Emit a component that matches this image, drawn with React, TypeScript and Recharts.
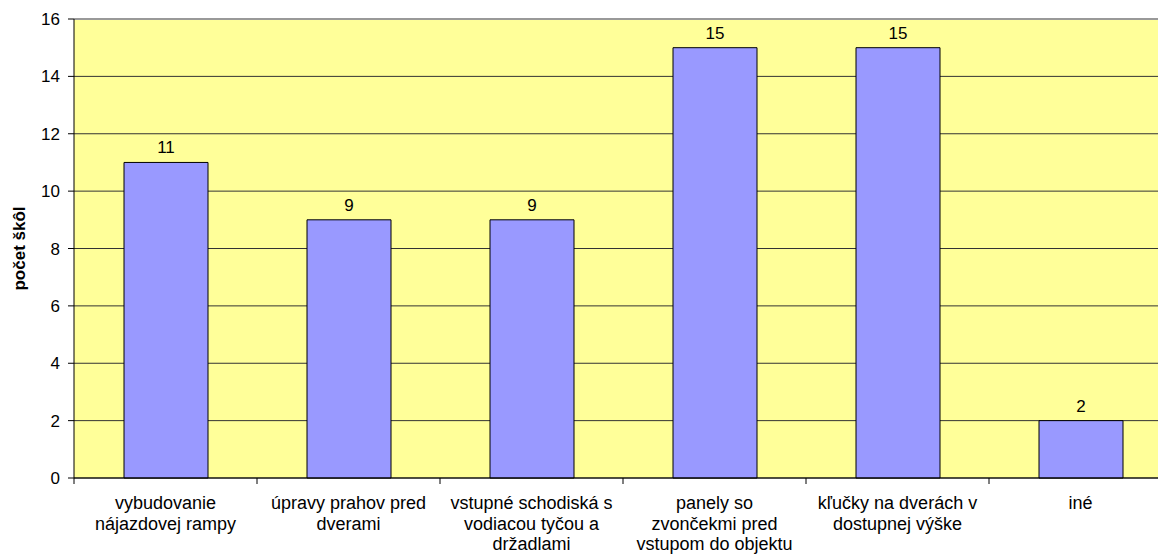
import { Bar, BarChart, CartesianGrid, LabelList, ReferenceLine, XAxis, YAxis } from 'recharts'

// Excel-style column chart: number of schools per type of accessibility adjustment.

const categories = [
  'vybudovanie\nnájazdovej rampy',
  'úpravy prahov pred\ndverami',
  'vstupné schodiská s\nvodiacou tyčou a\ndržadlami',
  'panely so\nzvončekmi pred\nvstupom do objektu',
  'kľučky na dverách v\ndostupnej výške',
  'iné',
]
const counts = [11, 9, 9, 15, 15, 2]
const yTicks = [0, 2, 4, 6, 8, 10, 12, 14, 16]

const data = categories.map((label, i) => ({ label, value: counts[i] }))

const FONT = '"Liberation Sans", Arial, sans-serif'

function CategoryTick(props: any) {
  const { x, y, payload } = props
  const half = payload?.offset ?? 91.5
  const lines = String(payload.value).split('\n')
  return (
    <g>
      <line x1={x - half} y1={y} x2={x - half} y2={y + 6} stroke="#000" />
      <text textAnchor="middle" fontFamily={FONT} fontSize={18} fill="#000">
        {lines.map((ln, i) => (
          <tspan key={i} x={x} y={y + 31 + i * 20.5}>
            {ln}
          </tspan>
        ))}
      </text>
    </g>
  )
}

function AxisTitle(props: any) {
  const vb = props.viewBox || {}
  const cy = (vb.y ?? 0) + (vb.height ?? 0) / 2
  const cx = 19
  return (
    <text
      x={cx}
      y={cy}
      transform={`rotate(-90 ${cx} ${cy})`}
      textAnchor="middle"
      dominantBaseline="central"
      fontFamily={FONT}
      fontSize={17}
      fontWeight="bold"
      fill="#000"
    >
      počet škôl
    </text>
  )
}

export default function App() {
  return (
    <div
      style={{
        position: 'absolute',
        left: 0,
        top: 0,
        width: 1158,
        height: 555,
        overflow: 'hidden',
        background: '#fff',
      }}
    >
      <BarChart
        width={1180}
        height={555}
        data={data}
        margin={{ top: 19, right: 8, bottom: 0, left: 0 }}
        barSize={84}
      >
        <CartesianGrid vertical={false} stroke="#333" fill="#FFFF99" fillOpacity={1} />
        <ReferenceLine y={16} stroke="#999" strokeWidth={2} />
        <XAxis
          dataKey="label"
          interval={0}
          height={77}
          tickLine={false}
          tickSize={0}
          tickMargin={0}
          axisLine={{ stroke: '#000' }}
          tick={<CategoryTick />}
        />
        <YAxis
          width={74}
          domain={[0, 16]}
          ticks={yTicks}
          interval={0}
          tickSize={6}
          tickMargin={8}
          axisLine={{ stroke: '#000' }}
          tickLine={{ stroke: '#000' }}
          tick={{ fill: '#000', fontSize: 17, fontFamily: FONT }}
          label={<AxisTitle />}
        />
        <Bar dataKey="value" fill="#9999FF" stroke="#000" strokeWidth={1} isAnimationActive={false}>
          <LabelList
            dataKey="value"
            position="top"
            offset={9}
            fill="#000"
            fontSize={17}
            fontFamily={FONT}
          />
        </Bar>
      </BarChart>
    </div>
  )
}
